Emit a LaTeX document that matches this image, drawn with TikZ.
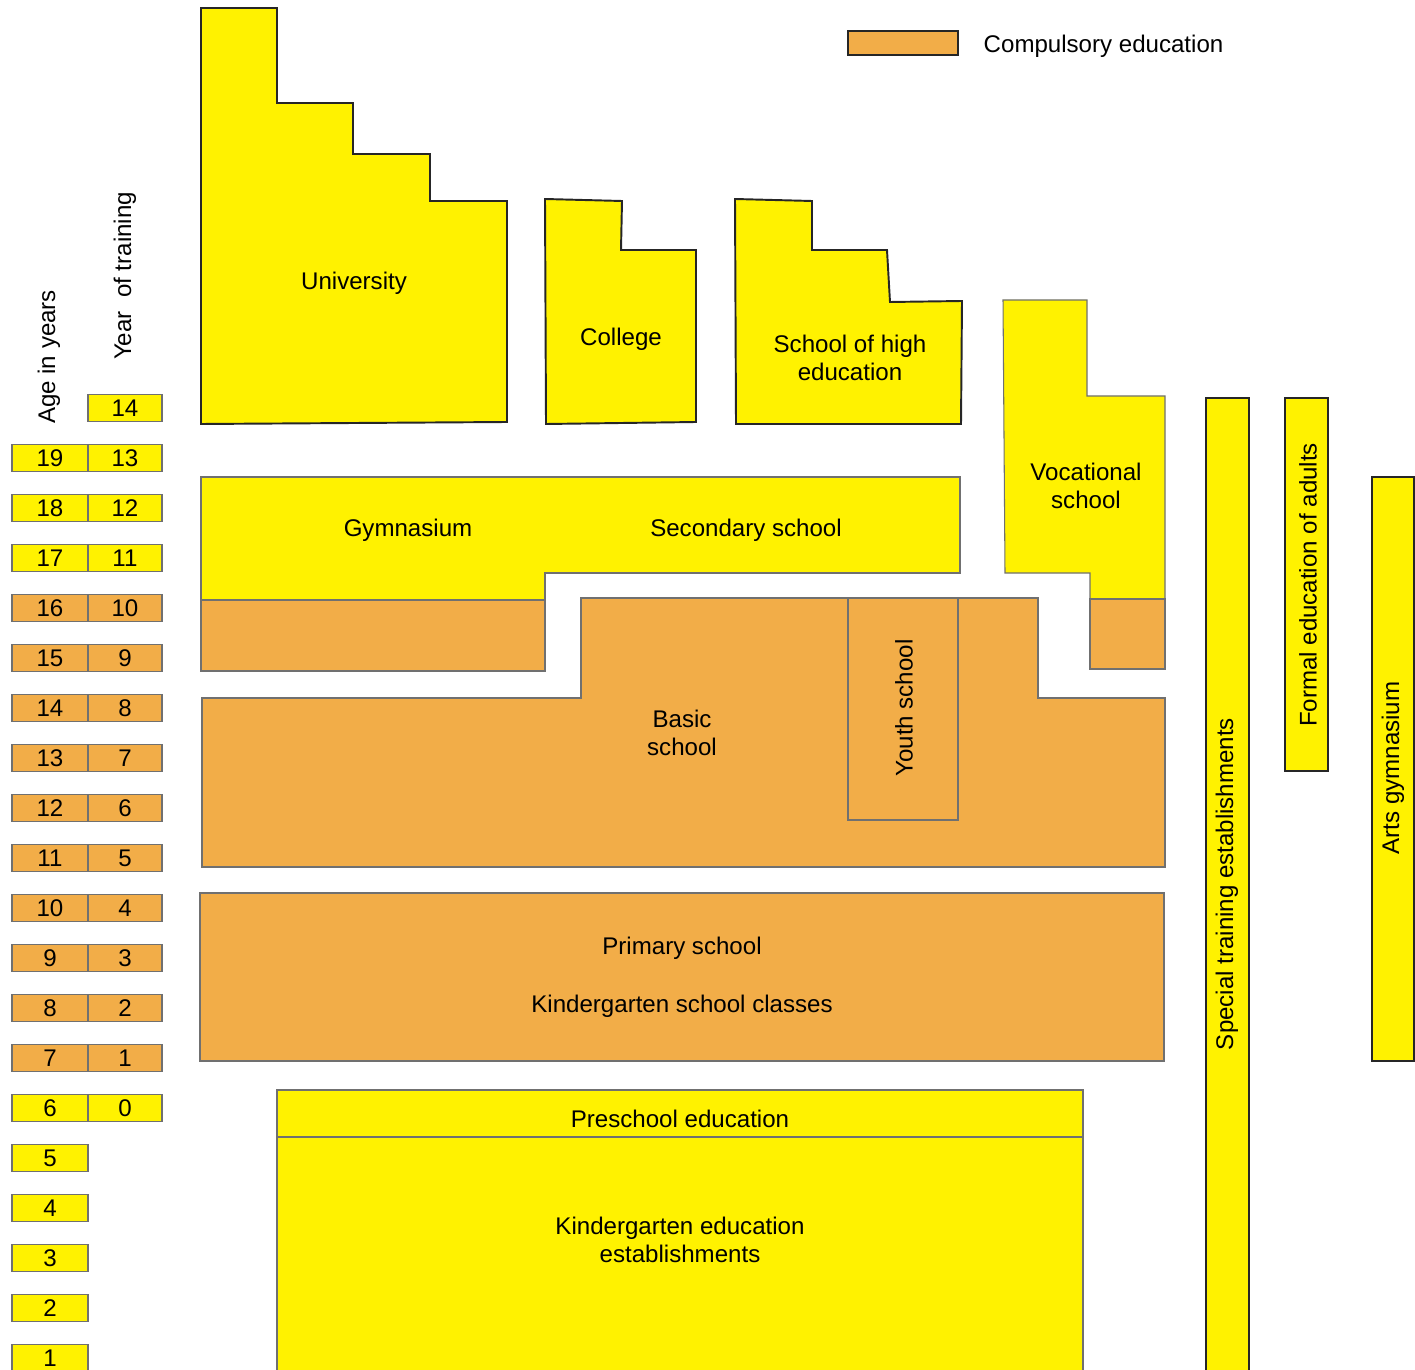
\documentclass[tikz,border=0pt]{standalone}
\usepackage{fontspec}
\setmainfont{Liberation Sans}
\usepackage{tikz}
\definecolor{eduyellow}{HTML}{FFF200}
\definecolor{eduorange}{HTML}{F2AD48}
\definecolor{edugray}{HTML}{707070}

\begin{document}
\begin{tikzpicture}[x=0.01cm,y=-0.01cm,
  font=\fontsize{6.85}{7.95}\selectfont,
  yelbox/.style={fill=eduyellow,draw=edugray,line width=0.3pt},
  orabox/.style={fill=eduorange,draw=edugray,line width=0.3pt},
  heavy/.style={fill=eduyellow,draw=black!85,line width=0.55pt},
  txt/.style={align=center,inner sep=0pt},
  htxt/.style={txt,yshift=-0.02cm}]
 	\useasboundingbox (0,0) rectangle (1415,1370);
 	\clip (0,0) rectangle (1415,1370);
 	% age and year scale
 	\foreach \a in {1,...,19}{
 	  \pgfmathsetmacro{\yc}{458+(19-\a)*50}
 	  \ifnum\a>6 \ifnum\a<17 \def\boxcol{orabox}\else\def\boxcol{yelbox}\fi\else\def\boxcol{yelbox}\fi
 	  \node[\boxcol,minimum width=0.76cm,minimum height=0.27cm,inner sep=0pt] (age\a) at (50,\yc) {\a};
 	}
 	\foreach \a in {6,...,20}{
 	  \pgfmathsetmacro{\yc}{458+(19-\a)*50}
 	  \pgfmathtruncatemacro{\yr}{\a-6}
 	  \ifnum\a>6 \ifnum\a<17 \def\boxcol{orabox}\else\def\boxcol{yelbox}\fi\else\def\boxcol{yelbox}\fi
 	  \node[\boxcol,minimum width=0.74cm,minimum height=0.27cm,inner sep=0pt] (yr\yr) at (125,\yc) {\yr};
 	}
 	\node[rotate=90,txt] (agelbl) at (49,357) {Age in years};
 	\node[rotate=90,txt] (yrlbl) at (125,276) {Year~~of training};
 	% higher education
 	\draw[heavy] (201,8)--(277,8)--(277,103)--(353,103)--(353,154)--(430,154)--(430,201)--(507,201)--(507,422)--(201,424)--cycle;
 	\node[htxt] (univ) at (354,281) {University};
 	\draw[heavy] (545,199)--(622,201)--(621,250)--(696,250)--(696,422)--(546,424)--cycle;
 	\node[htxt] (coll) at (621,337) {College};
 	\draw[heavy] (735,199)--(812,201)--(812,250)--(887,250)--(890,302)--(962,301)--(961,424)--(736,424)--cycle;
 	\node[txt] (hiedu) at (850,358) {School of high\\education};
 	% vocational
 	\draw[yelbox] (1003,300)--(1087,300)--(1087,396)--(1165,396)--(1165,599)--(1090,599)--(1090,573)--(1005,573)--cycle;
 	\draw[orabox] (1090,599) rectangle (1165,669);
 	\node[txt] (voc) at (1086,486) {Vocational\\school};
 	% secondary level
 	\draw[yelbox] (201,477)--(960,477)--(960,573)--(545,573)--(545,600)--(201,600)--cycle;
 	\draw[orabox] (201,600) rectangle (545,671);
 	\node[htxt] (gym) at (408,528) {Gymnasium};
 	\node[htxt] (sec) at (746,528) {Secondary school};
 	% basic school
 	\draw[orabox] (581,598)--(1038,598)--(1038,698)--(1165,698)--(1165,867)--(202,867)--(202,698)--(581,698)--cycle;
 	\draw[orabox] (848,598) rectangle (958,820);
 	\node[txt,rotate=90] (youth) at (904,708) {Youth school};
 	\node[txt] (basic) at (682,733) {Basic\\school};
 	% primary
 	\draw[orabox] (200,893) rectangle (1164,1061);
 	\node[htxt] (prim) at (682,946) {Primary school};
 	\node[htxt] (kgcl) at (682,1004) {Kindergarten school classes};
 	% preschool
 	\draw[yelbox] (277,1090) rectangle (1083,1400);
 	\draw[edugray,line width=0.3pt] (277,1137)--(1083,1137);
 	\node[htxt] (presch) at (680,1117) {Preschool education};
 	\node[txt] (kgest) at (680,1240) {Kindergarten education\\establishments};
 	% side columns
 	\draw[heavy] (1206,398) rectangle (1249,1400);
 	\node[txt,rotate=90] (spec) at (1227,884) {Special training establishments};
 	\draw[heavy] (1285,398) rectangle (1328,771);
 	\node[txt,rotate=90] (adult) at (1308,585) {Formal education of adults};
 	\draw[heavy] (1372,477) rectangle (1414,1061);
 	\node[txt,rotate=90] (arts) at (1393,768) {Arts gymnasium};
 	% legend
 	\draw[heavy,fill=eduorange] (848,31) rectangle (958,55);
 	\node[htxt,anchor=west] (legend) at (983,44) {Compulsory education};
\end{tikzpicture}
\end{document}
